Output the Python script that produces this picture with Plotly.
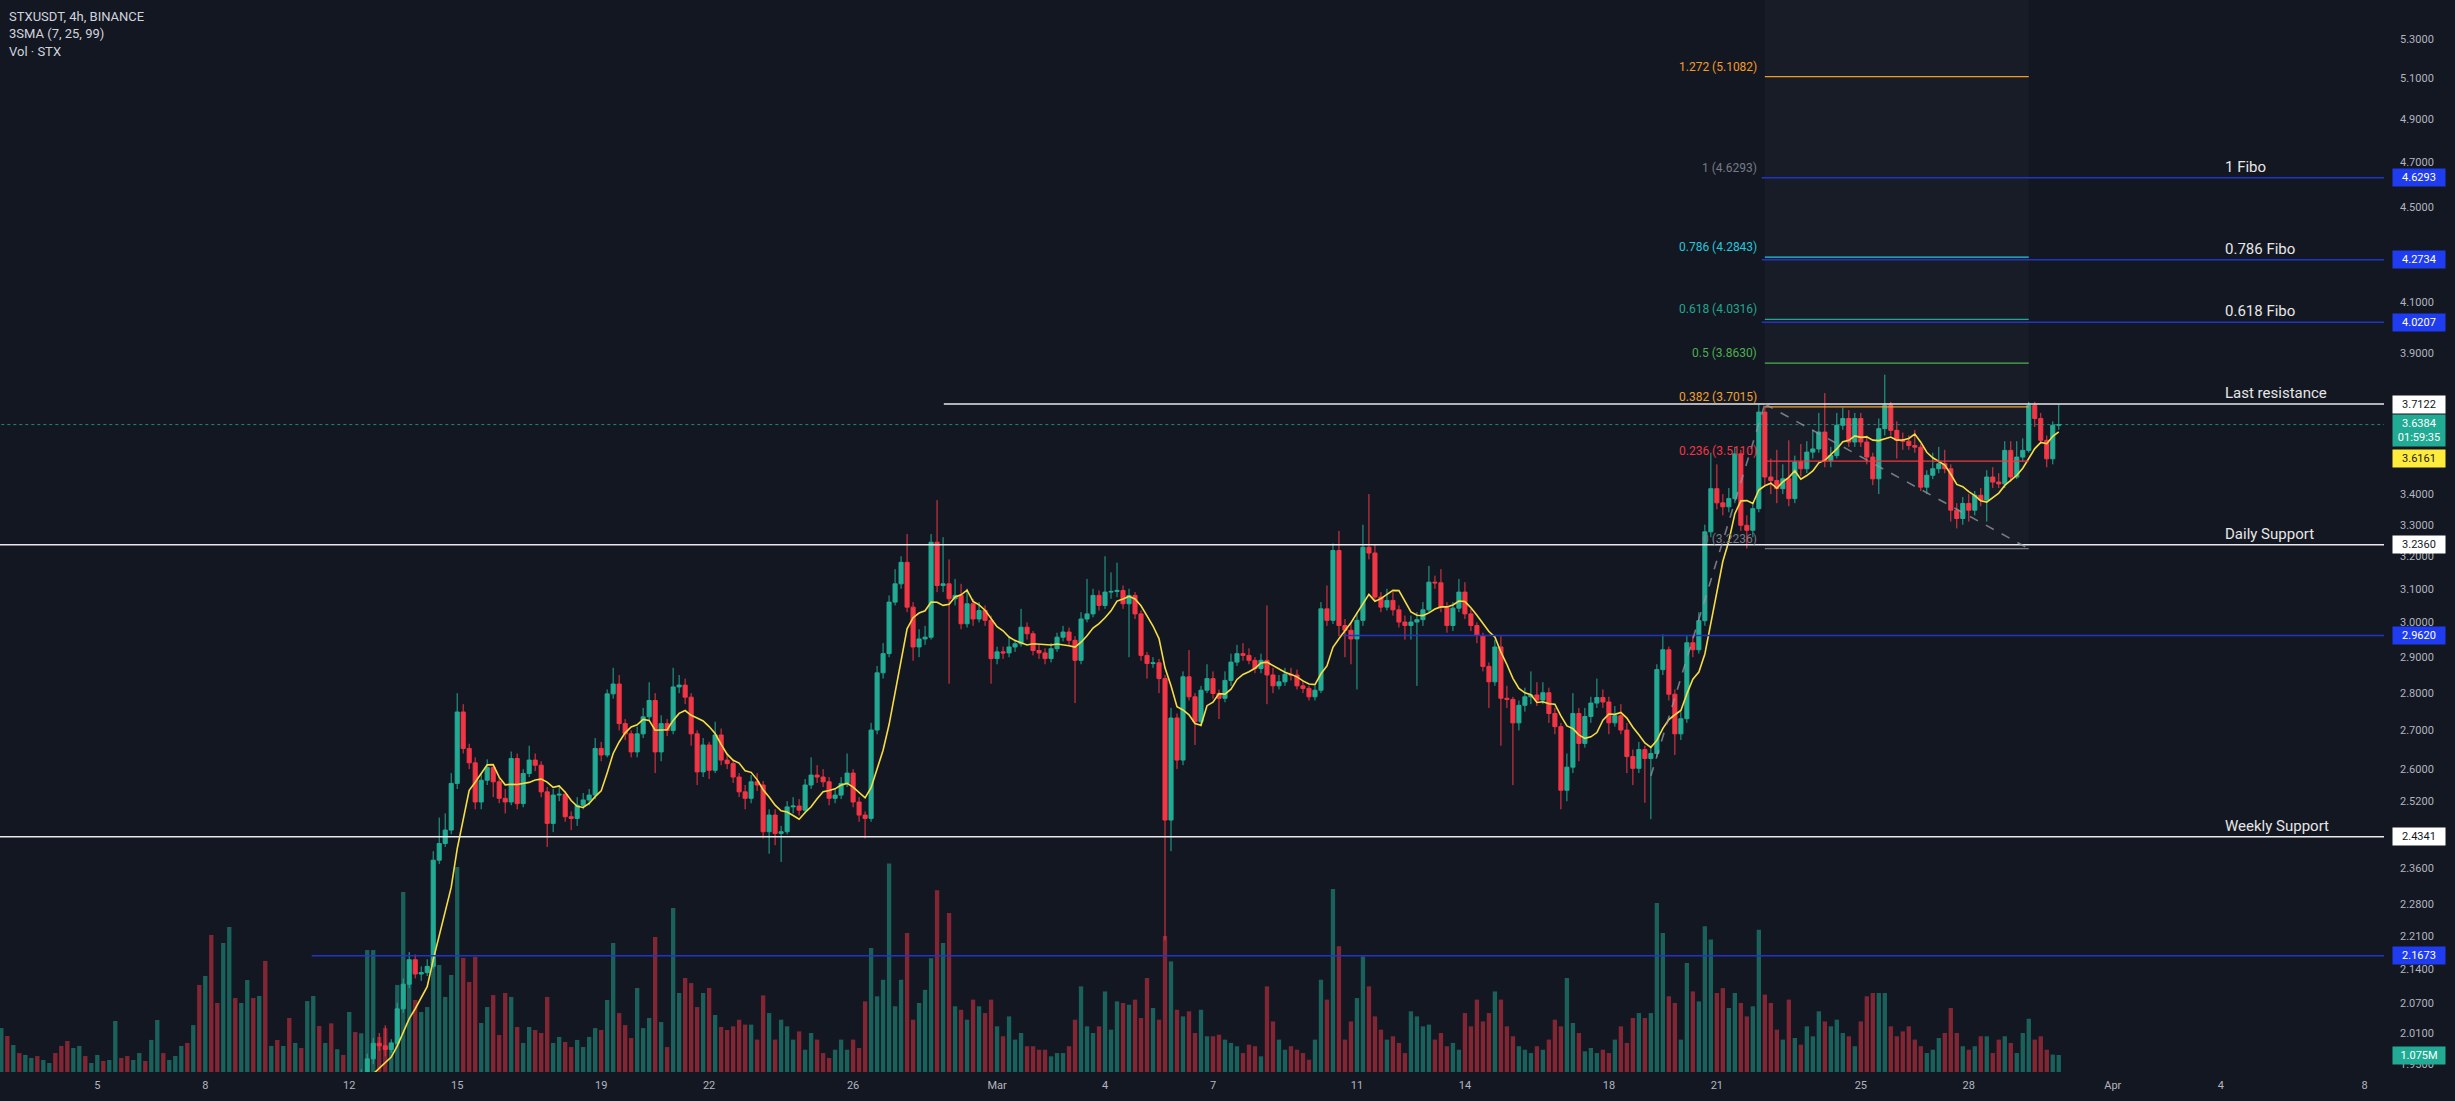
import math
from datetime import datetime, timedelta
import plotly.graph_objects as go

FONT = "Roboto"
BG = "#131722"
AXIS_TXT = "#b2b5be"

# ---------------- data (4h candles, STXUSDT Binance) ----------------
start_time = datetime(2024, 2, 2, 8)   # first candle open time
first_open = 1.55

close = [
    1.56, 1.55, 1.57, 1.56,
    1.57, 1.58, 1.56, 1.57, 1.59, 1.58,
    1.57, 1.55, 1.56, 1.58, 1.57, 1.59,
    1.61, 1.60, 1.62, 1.64, 1.63, 1.62,
    1.64, 1.66, 1.65, 1.67, 1.69, 1.68,
    1.70, 1.74, 1.78, 1.76, 1.80, 1.79,
    1.82, 1.80, 1.78, 1.81, 1.83, 1.82,
    1.84, 1.86, 1.83, 1.85, 1.84, 1.86,
    1.85, 1.87, 1.86, 1.88, 1.86, 1.87,
    1.89, 1.88, 1.90, 1.89, 1.91, 1.90,
    1.92, 1.91, 1.93, 1.96, 1.99, 1.985,
    1.978, 1.99, 2.058, 2.108, 2.159, 2.129,
    2.132, 2.145, 2.379, 2.418, 2.450, 2.564,
    2.749, 2.653, 2.616, 2.518, 2.572, 2.604,
    2.568, 2.527, 2.518, 2.627, 2.514, 2.589,
    2.623, 2.610, 2.543, 2.466, 2.535, 2.537,
    2.482, 2.478, 2.510, 2.523, 2.535, 2.653,
    2.636, 2.798, 2.825, 2.718, 2.691, 2.644,
    2.691, 2.736, 2.780, 2.644, 2.718, 2.700,
    2.817, 2.822, 2.789, 2.691, 2.593, 2.662,
    2.597, 2.688, 2.623, 2.614, 2.580, 2.543,
    2.527, 2.568, 2.560, 2.446, 2.486, 2.442,
    2.446, 2.506, 2.508, 2.498, 2.560, 2.585,
    2.580, 2.568, 2.527, 2.535, 2.564, 2.590,
    2.518, 2.486, 2.478, 2.701, 2.856, 2.910,
    3.060, 3.115, 3.181, 3.045, 2.929, 2.952,
    2.957, 3.244, 3.110, 3.115, 3.070, 3.080,
    2.996, 3.055, 3.010, 3.035, 3.006, 2.896,
    2.915, 2.912, 2.929, 2.938, 2.986, 2.967,
    2.919, 2.912, 2.896, 2.924, 2.957, 2.972,
    2.948, 2.891, 3.010, 3.025, 3.080, 3.050,
    3.090, 3.092, 3.095, 3.055, 3.080, 3.025,
    2.905, 2.882, 2.884, 2.840, 2.474, 2.733,
    2.623, 2.845, 2.790, 2.723, 2.808, 2.840,
    2.799, 2.786, 2.835, 2.886, 2.910, 2.905,
    2.891, 2.868, 2.891, 2.850, 2.820, 2.831,
    2.852, 2.850, 2.820, 2.813, 2.790, 2.808,
    3.040, 3.006, 3.218, 2.991, 2.977, 2.952,
    3.006, 3.228, 3.210, 3.075, 3.045, 3.065,
    3.037, 3.001, 2.991, 3.001, 3.008, 3.037,
    3.120, 3.118, 3.045, 2.991, 3.042, 3.090,
    3.025, 2.991, 2.962, 2.874, 2.831, 2.929,
    2.786, 2.783, 2.720, 2.767, 2.790, 2.795,
    2.781, 2.801, 2.745, 2.710, 2.547, 2.605,
    2.745, 2.666, 2.737, 2.773, 2.788, 2.776,
    2.720, 2.739, 2.701, 2.632, 2.602, 2.650,
    2.627, 2.640, 2.865, 2.921, 2.797, 2.691,
    2.731, 2.941, 2.921, 3.005, 3.277, 3.418,
    3.371, 3.358, 3.385, 3.536, 3.298, 3.282,
    3.352, 3.683, 3.457, 3.445, 3.418, 3.451,
    3.385, 3.508, 3.485, 3.542, 3.553, 3.612,
    3.513, 3.530, 3.636, 3.660, 3.577, 3.660,
    3.577, 3.525, 3.451, 3.624, 3.707, 3.618,
    3.583, 3.580, 3.565, 3.559, 3.423, 3.463,
    3.485, 3.502, 3.485, 3.347, 3.320, 3.369,
    3.347, 3.396, 3.380, 3.457, 3.440, 3.434,
    3.548, 3.457, 3.525, 3.548, 3.707, 3.660,
    3.583, 3.519, 3.636, 3.6384,
]

high = [
    1.57, 1.57, 1.58, 1.58,
    1.58, 1.59, 1.59, 1.58, 1.60, 1.60,
    1.59, 1.58, 1.57, 1.59, 1.59, 1.60,
    1.62, 1.62, 1.63, 1.66, 1.65, 1.64,
    1.65, 1.67, 1.67, 1.68, 1.71, 1.70,
    1.71, 1.75, 1.80, 1.79, 1.82, 1.83,
    1.85, 1.86, 1.82, 1.83, 1.86, 1.84,
    1.85, 1.88, 1.87, 1.86, 1.87, 1.87,
    1.87, 1.88, 1.88, 1.89, 1.89, 1.88,
    1.90, 1.90, 1.91, 1.91, 1.92, 1.92,
    1.93, 1.93, 1.94, 1.97, 2.00, 2.01,
    2.025, 1.998, 2.07, 2.12, 2.175, 2.17,
    2.145, 2.16, 2.40, 2.48, 2.49, 2.59,
    2.80, 2.77, 2.665, 2.63, 2.59, 2.625,
    2.61, 2.58, 2.55, 2.645, 2.64, 2.60,
    2.66, 2.64, 2.62, 2.555, 2.55, 2.56,
    2.545, 2.495, 2.53, 2.54, 2.55, 2.68,
    2.67, 2.81, 2.87, 2.85, 2.73, 2.70,
    2.71, 2.76, 2.83, 2.80, 2.74, 2.73,
    2.87, 2.85, 2.84, 2.80, 2.70, 2.68,
    2.67, 2.723, 2.705, 2.64, 2.625, 2.59,
    2.56, 2.585, 2.59, 2.57, 2.50, 2.50,
    2.46, 2.52, 2.53, 2.525, 2.575, 2.63,
    2.61, 2.60, 2.58, 2.55, 2.58, 2.64,
    2.60, 2.53, 2.495, 2.72, 2.875, 2.94,
    3.08, 3.16, 3.20, 3.27, 3.06, 2.98,
    2.99, 3.27, 3.38, 3.26, 3.19, 3.13,
    3.115, 3.10, 3.07, 3.06, 3.05, 3.02,
    2.93, 2.93, 2.96, 2.95, 3.04, 3.00,
    2.975, 2.935, 2.925, 2.94, 2.97, 2.99,
    2.985, 2.96, 3.03, 3.13, 3.10, 3.095,
    3.20, 3.15, 3.18, 3.11, 3.10, 3.09,
    3.035, 2.915, 2.90, 2.895, 2.85, 2.76,
    2.745, 2.86, 2.92, 2.80, 2.82, 2.88,
    2.86, 2.81, 2.86, 2.91, 2.935, 2.94,
    2.925, 2.90, 2.91, 3.05, 2.87, 2.85,
    2.87, 2.87, 2.865, 2.835, 2.82, 2.82,
    3.06, 3.11, 3.24, 3.28, 3.01, 3.00,
    3.03, 3.30, 3.40, 3.235, 3.09, 3.10,
    3.09, 3.05, 3.02, 3.02, 3.03, 3.06,
    3.17, 3.14, 3.16, 3.06, 3.06, 3.13,
    3.12, 3.04, 3.00, 2.97, 2.885, 2.95,
    2.96, 2.82, 2.79, 2.78, 2.815, 2.86,
    2.83, 2.83, 2.815, 2.76, 2.72, 2.64,
    2.80, 2.76, 2.76, 2.79, 2.84, 2.81,
    2.79, 2.765, 2.77, 2.72, 2.65, 2.67,
    2.66, 2.66, 2.88, 2.965, 2.93, 2.81,
    2.75, 2.96, 2.96, 3.03, 3.30, 3.54,
    3.50, 3.40, 3.42, 3.56, 3.55, 3.33,
    3.37, 3.71, 3.70, 3.52, 3.55, 3.50,
    3.583, 3.53, 3.57, 3.58, 3.62, 3.68,
    3.752, 3.56, 3.68, 3.70, 3.69, 3.68,
    3.68, 3.60, 3.54, 3.66, 3.82, 3.72,
    3.65, 3.61, 3.60, 3.62, 3.57, 3.48,
    3.54, 3.56, 3.55, 3.50, 3.37, 3.39,
    3.40, 3.41, 3.42, 3.48, 3.49, 3.47,
    3.58, 3.58, 3.58, 3.59, 3.72, 3.72,
    3.68, 3.60, 3.65, 3.71,
]

low = [
    1.54, 1.54, 1.54, 1.55,
    1.55, 1.56, 1.55, 1.55, 1.56, 1.57,
    1.56, 1.54, 1.54, 1.55, 1.56, 1.56,
    1.58, 1.59, 1.59, 1.61, 1.62, 1.61,
    1.61, 1.63, 1.64, 1.64, 1.66, 1.67,
    1.67, 1.69, 1.73, 1.75, 1.75, 1.77,
    1.78, 1.78, 1.76, 1.77, 1.80, 1.80,
    1.81, 1.83, 1.82, 1.82, 1.83, 1.83,
    1.84, 1.84, 1.85, 1.85, 1.85, 1.85,
    1.86, 1.87, 1.87, 1.88, 1.88, 1.89,
    1.89, 1.90, 1.90, 1.92, 1.95, 1.975,
    1.965, 1.972, 1.985, 2.05, 2.10, 2.12,
    2.115, 2.125, 2.14, 2.37, 2.41, 2.44,
    2.55, 2.64, 2.60, 2.50, 2.50, 2.56,
    2.53, 2.515, 2.49, 2.51, 2.50, 2.505,
    2.58, 2.595, 2.53, 2.41, 2.445, 2.52,
    2.47, 2.45, 2.46, 2.50, 2.51, 2.525,
    2.62, 2.63, 2.785, 2.70, 2.675, 2.63,
    2.63, 2.68, 2.725, 2.59, 2.62, 2.685,
    2.69, 2.80, 2.77, 2.66, 2.56, 2.58,
    2.575, 2.59, 2.61, 2.60, 2.565, 2.53,
    2.50, 2.515, 2.545, 2.43, 2.394, 2.414,
    2.375, 2.44, 2.49, 2.485, 2.49, 2.55,
    2.565, 2.555, 2.51, 2.515, 2.525, 2.555,
    2.505, 2.47, 2.43, 2.47, 2.69, 2.84,
    2.90, 3.05, 3.10, 3.03, 2.89, 2.90,
    2.935, 2.95, 3.09, 3.09, 2.826, 3.05,
    2.98, 2.985, 2.99, 3.00, 2.99, 2.826,
    2.88, 2.895, 2.90, 2.915, 2.93, 2.95,
    2.905, 2.895, 2.88, 2.885, 2.915, 2.945,
    2.935, 2.773, 2.88, 3.00, 3.015, 3.035,
    3.04, 3.07, 3.075, 3.04, 2.90, 3.01,
    2.89, 2.84, 2.87, 2.80, 2.20, 2.40,
    2.60, 2.61, 2.78, 2.662, 2.71, 2.80,
    2.785, 2.73, 2.775, 2.82, 2.875, 2.89,
    2.88, 2.855, 2.855, 2.77, 2.80, 2.81,
    2.82, 2.835, 2.81, 2.80, 2.78, 2.78,
    2.80, 2.99, 2.995, 2.96, 2.90, 2.88,
    2.81, 2.99, 3.19, 3.06, 3.03, 3.035,
    3.02, 2.985, 2.95, 2.95, 2.82, 2.99,
    3.03, 3.10, 3.03, 2.97, 2.975, 3.03,
    3.01, 2.975, 2.94, 2.86, 2.76, 2.82,
    2.66, 2.76, 2.56, 2.70, 2.75, 2.77,
    2.765, 2.77, 2.72, 2.69, 2.50, 2.52,
    2.59, 2.62, 2.655, 2.72, 2.76, 2.76,
    2.69, 2.71, 2.69, 2.59, 2.56, 2.59,
    2.516, 2.476, 2.63, 2.85, 2.78, 2.636,
    2.675, 2.72, 2.90, 2.91, 2.99, 3.26,
    3.35, 3.33, 3.34, 3.37, 3.28, 3.224,
    3.26, 3.34, 3.43, 3.40, 3.37, 3.40,
    3.36, 3.37, 3.46, 3.47, 3.52, 3.54,
    3.49, 3.49, 3.52, 3.62, 3.56, 3.56,
    3.56, 3.50, 3.43, 3.40, 3.60, 3.60,
    3.52, 3.55, 3.55, 3.54, 3.41, 3.40,
    3.45, 3.47, 3.47, 3.31, 3.288, 3.30,
    3.31, 3.33, 3.36, 3.31, 3.42, 3.42,
    3.42, 3.44, 3.45, 3.51, 3.54, 3.63,
    3.57, 3.49, 3.50, 3.62,
]

volume_m = [
    2.78, 2.28, 1.71, 1.20,
    1.08, 0.89, 1.01, 0.76, 0.57, 1.20,
    1.65, 1.96, 1.52, 1.65, 1.01, 0.57,
    1.08, 0.70, 0.76, 3.23, 0.89, 1.01,
    0.76, 1.20, 0.70, 2.03, 3.29, 1.20,
    0.76, 1.01, 1.65, 1.84, 2.97, 5.51,
    6.08, 8.67, 4.37, 8.16, 9.18, 4.68,
    4.37, 5.82, 4.68, 4.81, 7.03, 1.65,
    2.03, 1.65, 3.42, 1.84, 1.52, 4.49,
    4.81, 2.91, 1.84, 3.08, 1.44, 1.08,
    3.80, 2.53, 2.45, 7.72, 7.72, 2.22,
    2.78, 1.90, 5.51, 11.39, 5.70, 4.56,
    3.80, 4.11, 9.30, 6.77, 4.75, 6.14,
    12.97, 7.22, 5.70, 7.28, 3.10, 4.11,
    4.87, 2.34, 5.00, 4.75, 2.85, 1.84,
    2.85, 2.66, 2.47, 4.75, 1.84, 2.22,
    1.90, 1.58, 2.03, 1.58, 2.22, 2.78,
    2.66, 4.56, 8.16, 3.73, 2.97, 2.15,
    5.32, 2.78, 3.42, 8.54, 3.16, 1.58,
    10.38, 5.00, 5.95, 5.63, 4.11, 5.00,
    5.32, 3.61, 2.85, 2.66, 2.89, 3.31,
    3.00, 3.00, 2.05, 4.85, 3.73, 2.05,
    3.31, 2.89, 2.05, 2.57, 1.41, 2.47,
    2.05, 1.20, 0.89, 1.41, 2.05, 1.41,
    2.05, 1.52, 4.47, 7.85, 4.79, 5.84,
    13.2, 4.16, 5.84, 8.80, 3.31, 4.37,
    5.20, 7.20, 11.5, 8.17, 10.07, 4.16,
    3.94, 3.31, 4.58, 4.16, 3.73, 4.58,
    2.89, 2.26, 3.52, 2.05, 2.47, 1.63,
    1.63, 1.41, 1.41, 0.99, 1.20, 1.20,
    1.63, 3.31, 5.42, 2.89, 2.47, 2.89,
    5.10, 2.68, 4.47, 4.37, 4.26, 4.58,
    3.42, 5.95, 4.05, 3.31, 8.60, 7.00,
    3.94, 3.52, 3.84, 2.47, 3.94, 2.26,
    2.26, 2.36, 2.05, 1.84, 1.63, 1.20,
    1.73, 1.63, 0.99, 5.42, 3.20, 2.05,
    1.41, 1.63, 1.41, 1.20, 0.78, 2.05,
    5.84, 4.58, 11.58, 7.96, 2.05, 3.20,
    4.68, 7.32, 5.42, 3.52, 2.68, 2.05,
    2.26, 1.84, 1.20, 3.84, 3.52, 2.89,
    3.00, 2.05, 2.47, 1.63, 1.84, 1.41,
    3.73, 2.89, 4.58, 3.20, 3.73, 5.10,
    4.58, 2.89, 2.26, 1.63, 1.41, 1.20,
    1.63, 1.41, 2.05, 3.31, 2.89, 5.95,
    3.10, 2.47, 1.31, 1.52, 1.20, 1.41,
    1.20, 2.05, 2.89, 1.84, 3.42, 3.73,
    3.42, 3.73, 10.7, 8.80, 4.79, 4.37,
    2.05, 6.90, 5.10, 4.47, 9.22, 8.38,
    5.00, 5.31, 4.05, 5.00, 4.37, 3.52,
    4.16, 9.00, 4.90, 4.37, 2.68, 2.05,
    4.58, 2.15, 1.73, 2.89, 2.26, 3.84,
    3.20, 2.89, 3.31, 2.47, 2.26, 1.63,
    3.20, 4.79, 5.00, 5.00, 5.00, 2.89,
    2.26, 2.57, 2.89, 2.05, 1.63, 1.20,
    1.41, 2.15, 2.47, 4.05, 2.47, 1.63,
    1.41, 1.63, 2.26, 2.26, 1.20, 2.05,
    2.26, 1.84, 1.20, 2.47, 3.37, 2.05,
    2.26, 1.41, 1.10, 1.075,
]

n = len(close)
assert len(high) == n and len(low) == n and len(volume_m) == n, (n, len(high), len(low), len(volume_m))

times = [start_time + timedelta(hours=4 * i) for i in range(n)]
open_ = [first_open] + close[:-1]          # 24/7 market: each bar opens at previous close
sma_len = 7
sma = [None] * (sma_len - 1) + [sum(close[i - sma_len + 1:i + 1]) / sma_len for i in range(sma_len - 1, n)]

# horizontal levels (drawings)
last_resistance = 3.7122
daily_support = 3.2360
weekly_support = 2.4341
blue_levels = [4.6293, 4.2734, 4.0207]
blue_labels = ["1 Fibo", "0.786 Fibo", "0.618 Fibo"]
blue_mid = 2.9620
blue_low = 2.1673
last_price = 3.6384
sma_last = 3.6161
vol_last = 1.075
countdown = "01:59:35"

# trend-based fib extension
fib_levels = ["1.272", "1", "0.786", "0.618", "0.5", "0.382", "0.236", "0"]
fib_values = [5.1082, 4.6293, 4.2843, 4.0316, 3.8630, 3.7015, 3.5110, 3.2236]
fib_colors = ["#f39a29", "#787b86", "#26c6da", "#22a68f", "#4caf50", "#f0a030", "#f23645", "#787b86"]
fib_p1 = (datetime(2024, 3, 19, 4), 2.583)
fib_p2 = (datetime(2024, 3, 22, 8), 3.712)
fib_p3 = (datetime(2024, 3, 29, 16), 3.2236)

# axis ticks
date_ticks = ["2024-02-05", "2024-02-08", "2024-02-12", "2024-02-15", "2024-02-19", "2024-02-22",
              "2024-02-26", "2024-03-01", "2024-03-04", "2024-03-07", "2024-03-11", "2024-03-14",
              "2024-03-18", "2024-03-21", "2024-03-25", "2024-03-28", "2024-04-01", "2024-04-04",
              "2024-04-08"]
date_text = ["5", "8", "12", "15", "19", "22", "26", "Mar", "4", "7", "11", "14", "18", "21",
             "25", "28", "Apr", "4", "8"]
price_ticks = [1.95, 2.01, 2.07, 2.14, 2.21, 2.28, 2.36, 2.52, 2.6, 2.7, 2.8, 2.9, 3.0, 3.1,
               3.2, 3.3, 3.4, 3.9, 4.1, 4.5, 4.7, 4.9, 5.1, 5.3, 5.5]

x_start = datetime(2024, 2, 2, 7, 7)
x_end = datetime(2024, 4, 8, 12, 53)
price_lo, price_hi = 1.935, 5.505
vol_top = 67.85

# ---------------- figure ----------------
UP, DOWN = "#22ab94", "#f23645"
UP_V, DOWN_V = "rgba(34,171,148,0.50)", "rgba(242,54,69,0.50)"
fig = go.Figure()

# volume (base y axis, drawn under the price subplot)
fig.add_trace(go.Bar(
    x=times, y=volume_m, yaxis="y",
    marker=dict(color=[UP_V if c >= o else DOWN_V for o, c in zip(open_, close)], line_width=0),
    width=4 * 3600 * 1000 * 0.72, hoverinfo="skip", showlegend=False))

def line(x0, x1, y, color, width=1.0, dash="solid"):
    fig.add_trace(go.Scatter(x=[x0, x1], y=[y, y], mode="lines", yaxis="y2",
                             line=dict(color=color, width=width, dash=dash),
                             hoverinfo="skip", showlegend=False))

# faint fib background column
fig.add_trace(go.Scatter(
    x=[fib_p2[0], fib_p3[0], fib_p3[0], fib_p2[0], fib_p2[0]],
    y=[fib_values[-1], fib_values[-1], 7.0, 7.0, fib_values[-1]],
    mode="lines", fill="toself", fillcolor="rgba(255,255,255,0.025)", line=dict(width=0),
    yaxis="y2", hoverinfo="skip", showlegend=False))

# candles
fig.add_trace(go.Candlestick(
    x=times, open=open_, high=high, low=low, close=close, yaxis="y2",
    increasing=dict(line=dict(color=UP, width=1), fillcolor=UP),
    decreasing=dict(line=dict(color=DOWN, width=1), fillcolor=DOWN),
    whiskerwidth=0, hoverinfo="skip", showlegend=False))

# SMA 7
fig.add_trace(go.Scatter(x=times, y=sma, mode="lines", yaxis="y2",
                         line=dict(color="#f5dd42", width=1.6), hoverinfo="skip", showlegend=False))

# current price dotted line
line(times[0], x_end, last_price, "rgba(34,171,148,0.75)", 1, "dot")

# drawings
line(x_start, x_end, daily_support, "#e9e9ea", 1.5)
line(x_start, x_end, weekly_support, "#e9e9ea", 1.5)
line(datetime(2024, 2, 28, 12, 30), x_end, last_resistance, "#e9e9ea", 1.5)
line(datetime(2024, 3, 10, 14, 30), x_end, blue_mid, "#2035c8", 1.5)
line(datetime(2024, 2, 10, 23, 0), x_end, blue_low, "#2035c8", 1.5)
for v in blue_levels:
    line(fib_p2[0] - timedelta(hours=2), x_end, v, "#2035c8", 1.5)

for lv, v, c in zip(fib_levels, fib_values, fib_colors):
    if lv == "1":
        continue
    line(fib_p2[0], fib_p3[0], v, c, 1.2)

for (a, b) in [(fib_p1, fib_p2), (fib_p2, fib_p3)]:
    fig.add_trace(go.Scatter(x=[a[0], b[0]], y=[a[1], b[1]], mode="lines", yaxis="y2",
                             line=dict(color="rgba(150,153,162,0.75)", width=1.6, dash="dash"),
                             hoverinfo="skip", showlegend=False))

# ---------------- annotations ----------------
ann = []
lg = math.log10

def pbox(val, text, bg, fg, shift=0, ref="y2"):
    ann.append(dict(xref="paper", x=1, xanchor="left", xshift=8,
                    yref=ref, y=lg(val) if ref == "y2" else val, yanchor="middle", yshift=shift,
                    text=text, showarrow=False, bgcolor=bg, borderpad=2, width=48, align="center",
                    font=dict(color=fg, size=11, family=FONT)))

for v in blue_levels:
    pbox(v, f"{v:.4f}", "#1f3cf0", "#ffffff")
pbox(last_resistance, f"{last_resistance:.4f}", "#ffffff", "#131722")
pbox(last_price, f"{last_price:.4f}<br>{countdown}", "#22ab94", "#ffffff", -6)
pbox(sma_last, f"{sma_last:.4f}", "#ffeb3b", "#131722", -28)
pbox(daily_support, f"{daily_support:.4f}", "#ffffff", "#131722")
pbox(blue_mid, f"{blue_mid:.4f}", "#1f3cf0", "#ffffff")
pbox(weekly_support, f"{weekly_support:.4f}", "#ffffff", "#131722")
pbox(blue_low, f"{blue_low:.4f}", "#1f3cf0", "#ffffff")
pbox(vol_last, f"{vol_last:.3f}M", "#22ab94", "#ffffff", 0, "y")

text_x = datetime(2024, 4, 4, 1, 30)
for v, t in list(zip(blue_levels, blue_labels)) + [(last_resistance, "Last resistance"),
                                                     (daily_support, "Daily Support"),
                                                     (weekly_support, "Weekly Support")]:
    ann.append(dict(xref="x", x=text_x, xanchor="left", yref="y2", y=lg(v), yanchor="middle",
                    yshift=11, text=t, showarrow=False,
                    font=dict(color="#e6e6e6", size=15, family=FONT)))

for lv, v, c in zip(fib_levels, fib_values, fib_colors):
    ann.append(dict(xref="x", x=fib_p2[0], xanchor="right", xshift=-6, yref="y2", y=lg(v),
                    yanchor="middle", yshift=10, text=f"{lv} ({v:.4f})", showarrow=False,
                    font=dict(color=c, size=12, family=FONT)))

for k, (t, sz) in enumerate([("STXUSDT, 4h, BINANCE", 13), ("3SMA (7, 25, 99)", 13), ("Vol · STX", 13)]):
    ann.append(dict(xref="paper", yref="paper", x=0, y=1, xanchor="left", yanchor="middle",
                    xshift=7, yshift=-16 - 17.5 * k, text=t, showarrow=False,
                    font=dict(color="#d1d4dc", size=sz, family=FONT)))

fig.update_layout(
    width=2455, height=1101,
    margin=dict(l=0, r=71, t=0, b=29),
    paper_bgcolor=BG, plot_bgcolor=BG,
    showlegend=False, hovermode=False,
    boxgap=0.2, boxgroupgap=0.15,
    font=dict(family=FONT, color=AXIS_TXT, size=11),
    xaxis=dict(type="date", range=[x_start, x_end], tickmode="array", tickvals=date_ticks,
               ticktext=date_text, showgrid=False, zeroline=False, showline=False, ticks="",
               rangeslider=dict(visible=False), tickfont=dict(size=11, color=AXIS_TXT),
               ticklabelstandoff=5),
    yaxis=dict(range=[0, vol_top], visible=False, fixedrange=True),
    yaxis2=dict(type="log", overlaying="y", side="right", anchor="x",
                range=[lg(price_lo), lg(price_hi)], tickmode="array", tickvals=price_ticks,
                ticktext=[f"{v:.4f}" for v in price_ticks], showgrid=False, zeroline=False,
                showline=False, ticks="", tickfont=dict(size=11, color=AXIS_TXT),
                ticklabelstandoff=15),
    annotations=ann,
)

fig.write_html("out.html")
